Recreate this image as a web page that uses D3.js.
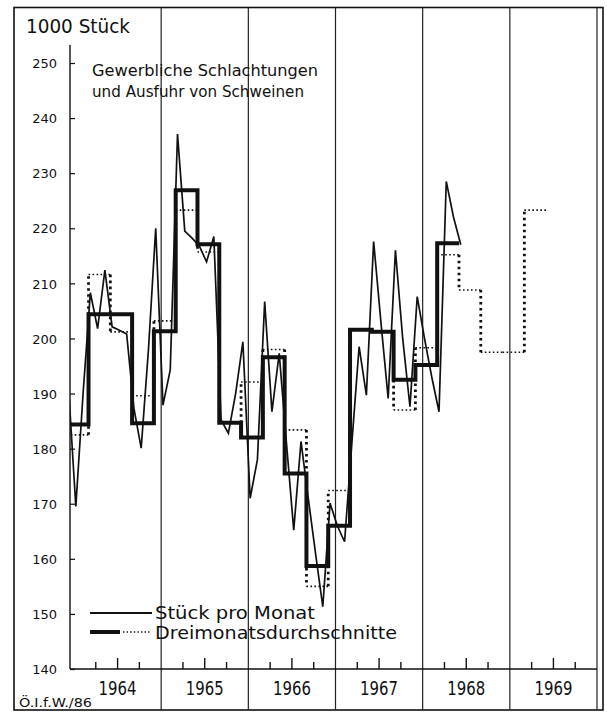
<!DOCTYPE html>
<html><head><meta charset="utf-8">
<script src="https://cdn.jsdelivr.net/npm/d3@7"></script>
<style>
html,body{margin:0;padding:0;background:#fff;}
svg{display:block;}
text{font-family:"DejaVu Sans",sans-serif;fill:#111;}
</style></head><body>
<svg id="c" width="607" height="714"></svg>
<script>
// ---------- data ----------
const years = [1964, 1965, 1966, 1967, 1968, 1969];
// months counted from Jan 1964 = 0; first monthly value is Dec 1963
const monthStart = -1;
const monthly = [191, 169.5, 190, 208.3, 201.8, 212.4, 202.1, 201.5, 200.8, 187.3, 180.1, 198,
  220, 187.9, 194.3, 237.1, 219.5, 218.2, 216.8, 213.9, 218.5, 185.2, 182.8, 190,
  199.4, 171.0, 178, 206.7, 186.7, 197.3, 181, 165.2, 181.3, 171, 161, 151.3,
  170.1, 166, 163.1, 181, 198.5, 189.7, 217.6, 203, 189.1, 216, 200, 187.6,
  207.6, 200, 193, 186.7, 228.5, 222, 217];
// three-month periods, first one Dec 1963 - Feb 1964
const periodStart = -1;
const threeMonthAvg = [184.4, 204.4, 204.4, 184.6, 201.3, 226.9, 217.1, 184.7, 182.0,
  196.6, 175.5, 158.7, 166.0, 201.6, 201.2, 192.5, 195.2, 217.3];
const threeMonthDotted = [182.5, 211.6, 201.2, 189.6, 203.2, 223.3, 215.7, 184.7, 192.1,
  198.0, 183.4, 155.0, 172.4, 201.6, 201.2, 187.0, 198.3, 215.2, 208.8, 197.5, 197.5, 223.3];
const yTicks = [140, 150, 160, 170, 180, 190, 200, 210, 220, 230, 240, 250];
const quarterTicks = [3, 6, 9];

// ---------- scales ----------
const svg = d3.select('#c');
const x = d3.scaleLinear().domain([0, 72]).range([74, 597]);
const y = d3.scaleLinear().domain([140, 250]).range([669, 63]);
const axisX = 70, baseY = 669;

// frame
svg.append('rect').attr('x', 14).attr('y', 7.5).attr('width', 589).attr('height', 702.5)
  .attr('fill', 'none').attr('stroke', '#111').attr('stroke-width', 1.6);

// year separators
years.forEach((yr, i) => {
  const xv = x((i + 1) * 12);
  svg.append('line').attr('x1', xv).attr('x2', xv).attr('y1', 8).attr('y2', 710)
    .attr('stroke', '#222').attr('stroke-width', 1.2);
});

// axes lines
svg.append('line').attr('x1', axisX).attr('x2', axisX).attr('y1', 45).attr('y2', baseY)
  .attr('stroke', '#111').attr('stroke-width', 1.4);
svg.append('line').attr('x1', axisX).attr('x2', x(72)).attr('y1', baseY).attr('y2', baseY)
  .attr('stroke', '#111').attr('stroke-width', 1.6);

// y axis ticks + labels
const yAxis = d3.axisLeft(y).tickValues(yTicks).tickSize(-5).tickSizeOuter(0).tickPadding(13)
  .tickFormat(d3.format('d'));
const ga = svg.append('g').attr('transform', `translate(${axisX},0)`).call(yAxis);
ga.select('.domain').remove();
ga.selectAll('line').attr('stroke', '#111').attr('stroke-width', 1.2);
ga.selectAll('text').attr('font-size', 13).attr('font-family', '"DejaVu Sans",sans-serif')
  .attr('fill', '#111').attr('dy', '0.36em');

// x quarter ticks
years.forEach((yr, i) => {
  quarterTicks.forEach(q => {
    const xv = x(i * 12 + q);
    svg.append('line').attr('x1', xv).attr('x2', xv).attr('y1', baseY)
      .attr('y2', baseY - (q === 6 ? 11 : 7)).attr('stroke', '#111').attr('stroke-width', 1.4);
  });
});

// year labels
years.forEach((yr, i) => {
  svg.append('text').attr('x', x(i * 12 + 6)).attr('y', 695).attr('text-anchor', 'middle')
    .attr('font-size', 20).attr('textLength', 38).attr('lengthAdjust', 'spacingAndGlyphs')
    .text(yr);
});

// clip for data
svg.append('clipPath').attr('id', 'clip').append('rect')
  .attr('x', axisX).attr('y', 0).attr('width', 600).attr('height', 714);
const gd = svg.append('g').attr('clip-path', 'url(#clip)');

// dotted three-month step
threeMonthDotted.forEach((v, i) => {
  const t0 = periodStart + 3 * i, t1 = t0 + 3;
  gd.append('line').attr('x1', x(t0)).attr('x2', x(t1)).attr('y1', y(v)).attr('y2', y(v))
    .attr('stroke', '#111').attr('stroke-width', 1.6).attr('stroke-dasharray', '1.6,2.4');
  if (i < threeMonthDotted.length - 1) {
    const v2 = threeMonthDotted[i + 1];
    gd.append('line').attr('x1', x(t1)).attr('x2', x(t1)).attr('y1', y(v)).attr('y2', y(v2))
      .attr('stroke', '#111').attr('stroke-width', 2.8).attr('stroke-dasharray', '2.6,3.4');
  }
});

// thick three-month step
const stepPts = threeMonthAvg.map((v, i) => [periodStart + 3 * i, v]);
stepPts.push([periodStart + 3 * threeMonthAvg.length, threeMonthAvg[threeMonthAvg.length - 1]]);
gd.append('path').attr('d', d3.line().x(d => x(d[0])).y(d => y(d[1])).curve(d3.curveStepAfter)(stepPts))
  .attr('fill', 'none').attr('stroke', '#111').attr('stroke-width', 4);

// monthly line
const monthPts = monthly.map((v, i) => [monthStart + i + 0.25, v]);
gd.append('path').attr('d', d3.line().x(d => x(d[0])).y(d => y(d[1]))(monthPts))
  .attr('fill', 'none').attr('stroke', '#111').attr('stroke-width', 1.7).attr('stroke-linejoin', 'miter');

// texts
svg.append('text').attr('x', 26).attr('y', 33).attr('font-size', 19)
  .attr('textLength', 104).attr('lengthAdjust', 'spacingAndGlyphs').text('1000 Stück');
svg.append('text').attr('x', 92).attr('y', 76).attr('font-size', 16.5)
  .attr('textLength', 226).attr('lengthAdjust', 'spacingAndGlyphs').text('Gewerbliche Schlachtungen');
svg.append('text').attr('x', 92).attr('y', 97).attr('font-size', 16.5)
  .attr('textLength', 212).attr('lengthAdjust', 'spacingAndGlyphs').text('und Ausfuhr von Schweinen');

// legend
svg.append('line').attr('x1', 90).attr('x2', 152).attr('y1', 613).attr('y2', 613)
  .attr('stroke', '#111').attr('stroke-width', 1.8);
svg.append('line').attr('x1', 90).attr('x2', 120).attr('y1', 632).attr('y2', 632)
  .attr('stroke', '#111').attr('stroke-width', 4);
svg.append('line').attr('x1', 123).attr('x2', 150).attr('y1', 632).attr('y2', 632)
  .attr('stroke', '#111').attr('stroke-width', 1.4).attr('stroke-dasharray', '1.4,2.2');
svg.append('text').attr('x', 155).attr('y', 619).attr('font-size', 17)
  .attr('textLength', 160).attr('lengthAdjust', 'spacingAndGlyphs').text('Stück pro Monat');
svg.append('text').attr('x', 155).attr('y', 639).attr('font-size', 17)
  .attr('textLength', 242).attr('lengthAdjust', 'spacingAndGlyphs').text('Dreimonatsdurchschnitte');

svg.append('text').attr('x', 19).attr('y', 707).attr('font-size', 12)
  .attr('textLength', 73).attr('lengthAdjust', 'spacingAndGlyphs').text('Ö.I.f.W./86');
</script>
</body></html>
